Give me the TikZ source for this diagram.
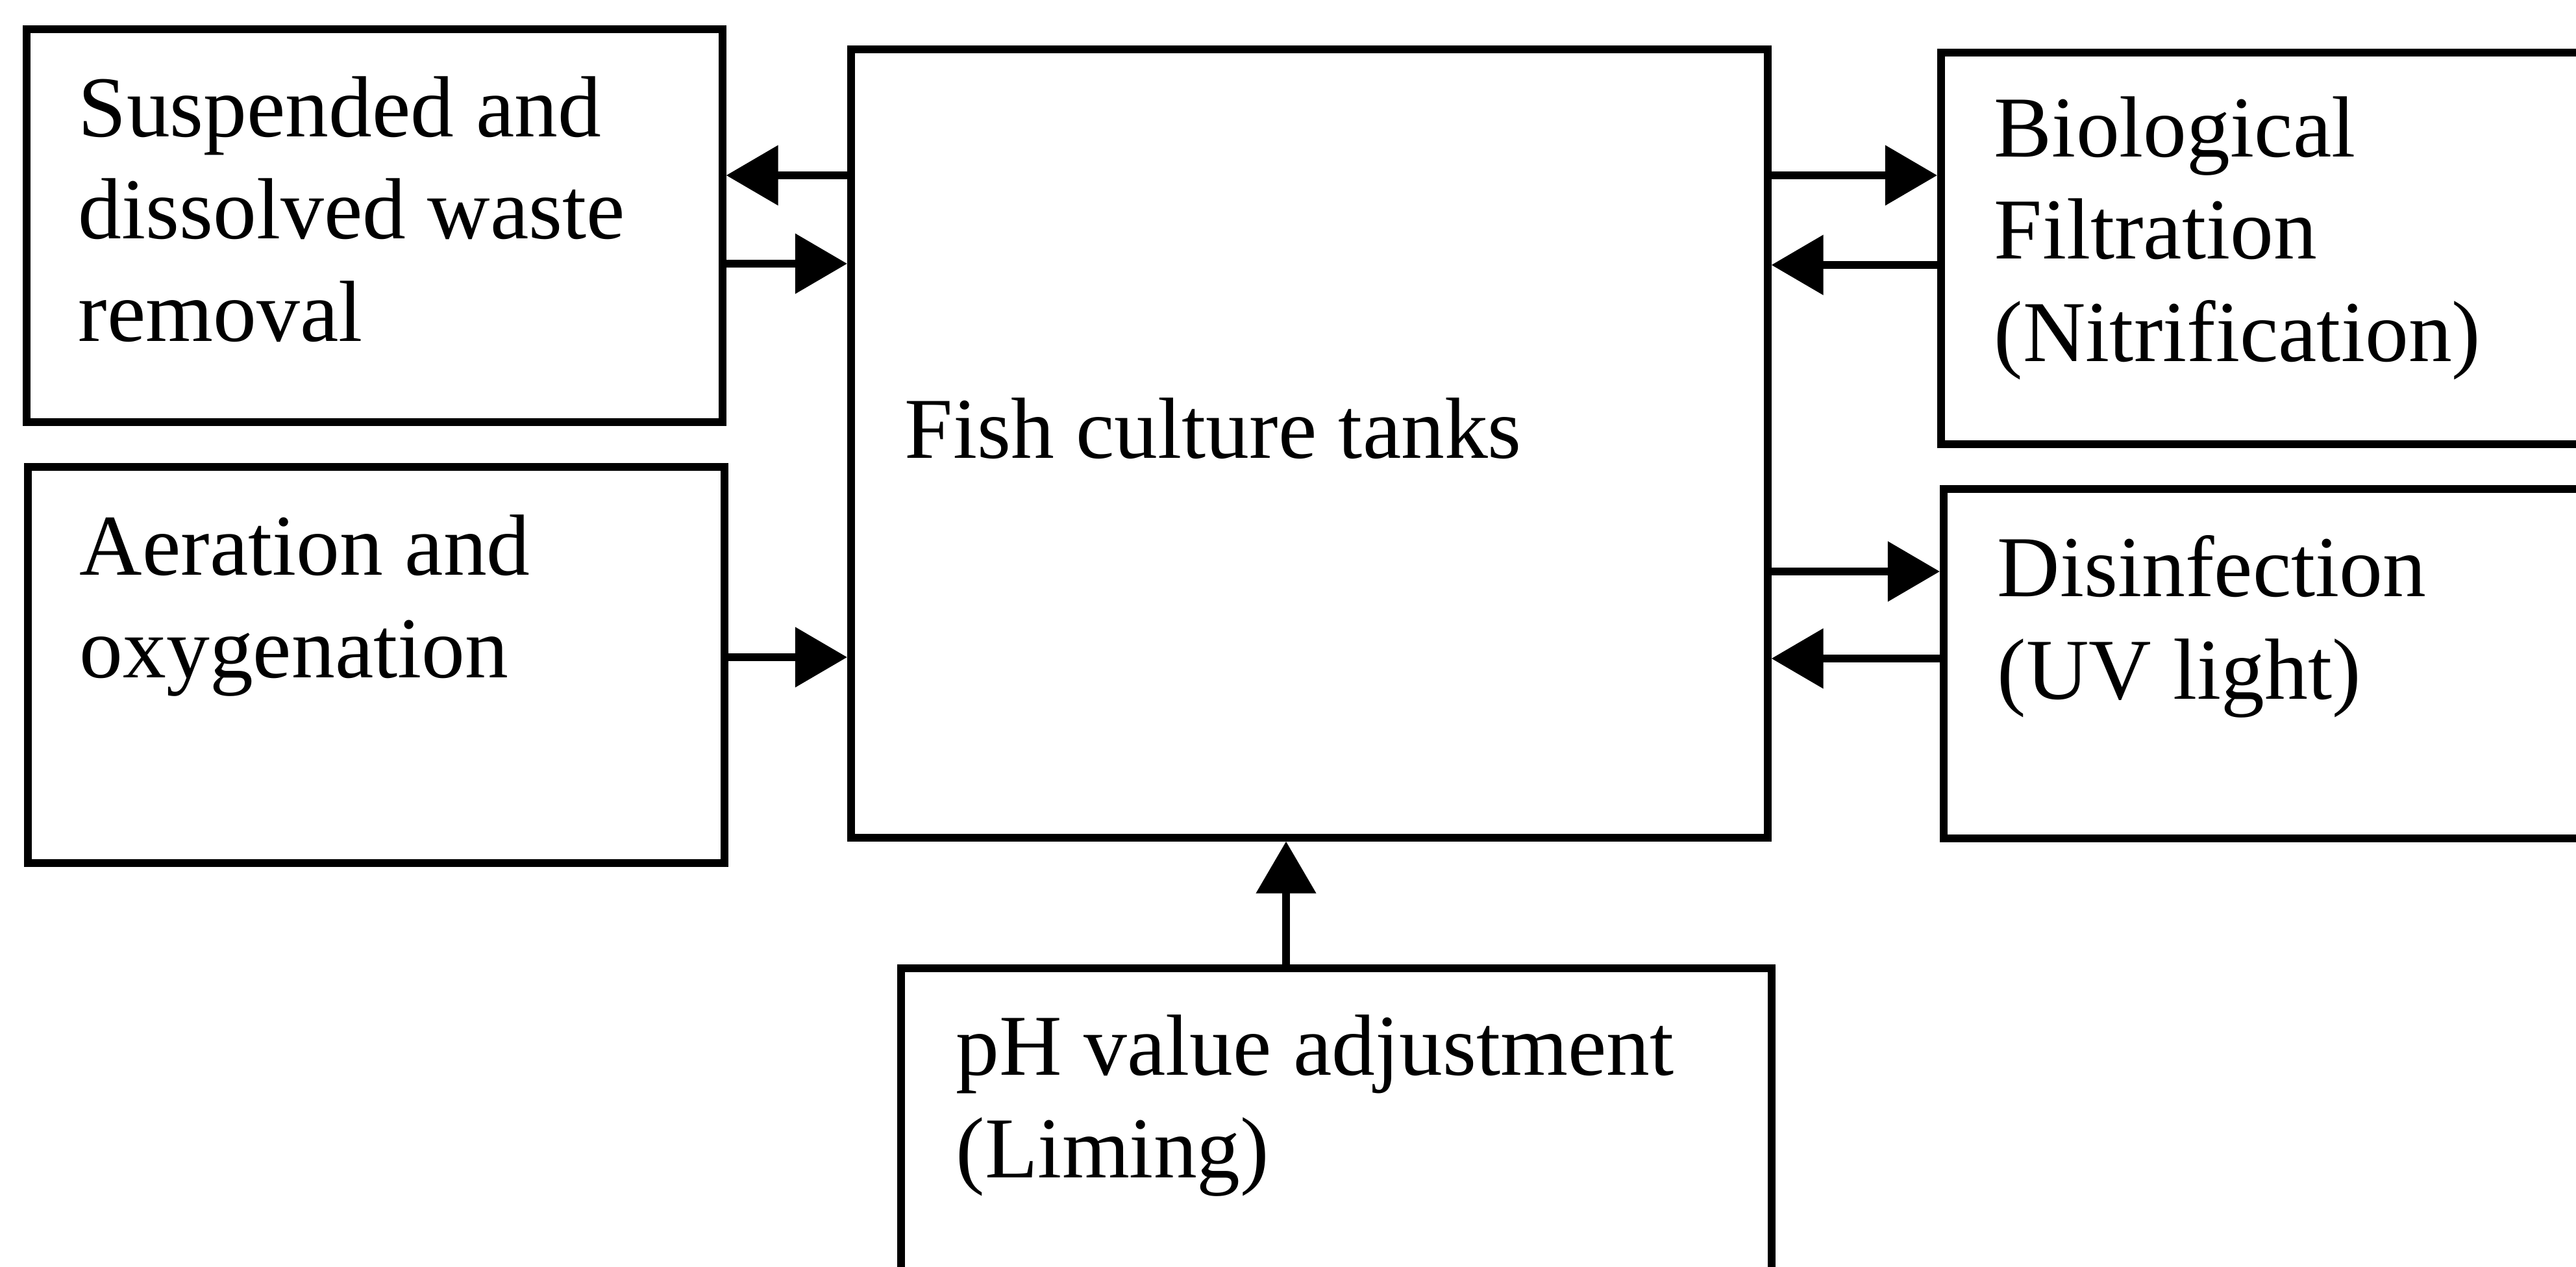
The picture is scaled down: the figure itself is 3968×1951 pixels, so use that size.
\documentclass[tikz,border=0pt]{standalone}
\usepackage{fontspec}
\setmainfont{Liberation Serif}
\usetikzlibrary{arrows.meta}

\tikzset{
  unitbox/.style={draw=black, line width=3.3pt, inner sep=0pt, anchor=north west},
  boxtext/.style={anchor=base west, inner sep=0pt, align=left,
    font=\fontsize{38pt}{44.7pt}\selectfont},
  flow/.style={line width=3.3pt,
    -{Triangle[length=0.8cm, width=0.9cm]}}
}

\begin{document}
\begin{tikzpicture}[x=0.01cm, y=-0.01cm]
  \clip (0,0) rectangle (3968,1951);
  \fill[white] (0,0) rectangle (3968,1951);

  % process boxes
  \node[unitbox, minimum width=1072*0.01cm, minimum height=605*0.01cm] (susp) at (35,39) {};
  \node[unitbox, minimum width=1073*0.01cm, minimum height=610*0.01cm] (aer) at (37,713) {};
  \node[unitbox, minimum width=1412*0.01cm, minimum height=1214*0.01cm] (tank) at (1305,70) {};
  \node[unitbox, minimum width=1100*0.01cm, minimum height=603*0.01cm] (bio) at (2984,75) {};
  \node[unitbox, minimum width=1100*0.01cm, minimum height=538*0.01cm] (dis) at (2988,747) {};
  \node[unitbox, minimum width=1341*0.01cm, minimum height=600*0.01cm] (ph) at (1382,1485) {};

  % box labels (anchored at the baseline of their last line)
  \node[boxtext] (tsusp) at (120,525) {Suspended and\\dissolved waste\\removal};
  \node[boxtext] (taer) at (122,1043) {Aeration and\\oxygenation};
  \node[boxtext] (ttank) at (1393,705) {Fish culture tanks};
  \node[boxtext] (tbio) at (3071,556) {Biological\\Filtration\\(Nitrification)};
  \node[boxtext] (tdis) at (3076,1076) {Disinfection\\(UV light)};
  \node[boxtext] (tph) at (1472,1813) {pH value adjustment\\(Liming)};

  % connector levels
  \coordinate (l1) at (0,270);
  \coordinate (l2) at (0,406);
  \coordinate (l3) at (0,1012);
  \coordinate (r1) at (0,270);
  \coordinate (r2) at (0,408);
  \coordinate (r3) at (0,880);
  \coordinate (r4) at (0,1014);
  \coordinate (b1) at (1981,0);

  % connectors
  \draw[flow] (tank.west |- l1) -- (susp.east |- l1);
  \draw[flow] (susp.east |- l2) -- (tank.west |- l2);
  \draw[flow] (aer.east |- l3) -- (tank.west |- l3);
  \draw[flow] (tank.east |- r1) -- (bio.west |- r1);
  \draw[flow] (bio.west |- r2) -- (tank.east |- r2);
  \draw[flow] (tank.east |- r3) -- (dis.west |- r3);
  \draw[flow] (dis.west |- r4) -- (tank.east |- r4);
  \draw[flow] (ph.north -| b1) -- (tank.south -| b1);
\end{tikzpicture}
\end{document}
